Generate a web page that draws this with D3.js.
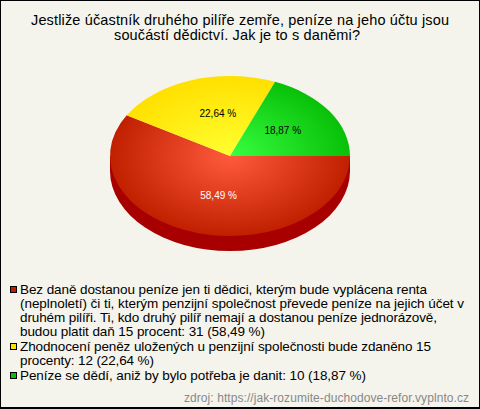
<!DOCTYPE html>
<html><head><meta charset="utf-8">
<script src="https://cdn.jsdelivr.net/npm/d3@7"></script>
<style>html,body{margin:0;padding:0;background:#f4f4ec}svg{display:block}text{font-family:"Liberation Sans",Arial,sans-serif}</style>
</head><body><div id="c"></div>
<script>
const titleLines = ["Jestliže účastník druhého pilíře zemře, peníze na jeho účtu jsou","součástí dědictví. Jak je to s daněmi?"];
const counts = [31, 12, 10];
const pctLabels = ["58,49 %","22,64 %","18,87 %"];
const labelColors = ["#ffffff","#000000","#000000"];
const legendLines = [
 ["Bez daně dostanou peníze jen ti dědici, kterým bude vyplácena renta","(neplnoletí) či ti, kterým penzijní společnost převede peníze na jejich účet v","druhém pilíři. Ti, kdo druhý pilíř nemají a dostanou peníze jednorázově,","budou platit daň 15 procent: 31 (58,49 %)"],
 ["Zhodnocení peněz uložených u penzijní společnosti bude zdaněno 15","procenty: 12 (22,64 %)"],
 ["Peníze se dědí, aniž by bylo potřeba je danit: 10 (18,87 %)"]];
const outerColors = ["#c02000","#ffe000","#08c008"];
const innerColors = ["#ff5a3c","#ffff30","#38ff40"];
const sourceText = "zdroj: https://jak-rozumite-duchodove-refor.vyplnto.cz";

// layout only
const titleX=[31,114];
const titleWidths=[418,246];
const legendWidths=[[407,444,417,245],[411,134],[346]];
const labelNudge=[[6,-2.5],[9,-0.5],[-2,-1]];

const W=480,H=409,cx=230,cy=156,rx=120,ry=80,depth=15;
const svg=d3.select("#c").append("svg").attr("width",W).attr("height",H);
svg.append("rect").attr("x",.5).attr("y",.5).attr("width",W-1).attr("height",H-1).attr("fill","#f4f4ec").attr("stroke","#000");
svg.append("line").attr("x1",0).attr("x2",W).attr("y1",407.5).attr("y2",407.5).attr("stroke","#000");

svg.selectAll("text.t").data(titleLines).join("text").attr("class","t")
 .attr("x",(d,i)=>titleX[i]).attr("y",(d,i)=>25+i*15).attr("font-size",14.5).attr("fill","#000")
 .attr("textLength",(d,i)=>titleWidths[i]).attr("lengthAdjust","spacing").text(d=>d);

const defs=svg.append("defs");
counts.forEach((c,i)=>{
 const g=defs.append("radialGradient").attr("id","g"+i).attr("gradientUnits","userSpaceOnUse").attr("cx",0).attr("cy",0).attr("r",rx);
 g.append("stop").attr("offset",0).attr("stop-color",innerColors[i]);
 g.append("stop").attr("offset",1).attr("stop-color",outerColors[i]);
});
const pie=d3.pie().sort(null).startAngle(Math.PI/2).endAngle(Math.PI/2+2*Math.PI);
const arcs=pie(counts);
const arc=d3.arc().innerRadius(0).outerRadius(rx);
const yScale=ry/rx;

const wall=svg.append("g");
wall.append("path").attr("d",arc({startAngle:Math.PI/2,endAngle:Math.PI*1.5}))
 .attr("transform",`translate(${cx},${cy+depth}) scale(1,${yScale})`).attr("fill","#a80000");
wall.append("rect").attr("x",cx-rx).attr("y",cy).attr("width",2*rx).attr("height",depth).attr("fill","#a80000");

svg.append("g").attr("transform",`translate(${cx},${cy}) scale(1,${yScale})`)
 .selectAll("path").data(arcs).join("path").attr("d",arc).attr("fill",(d,i)=>`url(#g${i})`);

const lab=d3.arc().innerRadius(0).outerRadius(rx*1.1);
svg.selectAll("text.l").data(arcs).join("text").attr("class","l")
 .attr("x",(d,i)=>cx+lab.centroid(d)[0]+labelNudge[i][0]).attr("y",(d,i)=>cy+lab.centroid(d)[1]*yScale+3.5+labelNudge[i][1])
 .attr("text-anchor","middle").attr("font-size",10).attr("fill",(d,i)=>labelColors[i]).text((d,i)=>pctLabels[i]);

let y=294;
legendLines.forEach((lines,i)=>{
 svg.append("rect").attr("x",10.5).attr("y",y-7.5).attr("width",6).attr("height",6).attr("fill",outerColors[i]).attr("stroke","#000");
 lines.forEach((s,j)=>{
  svg.append("text").attr("x",20).attr("y",y).attr("font-size",13.5).attr("fill","#000")
   .attr("textLength",legendWidths[i][j]).attr("lengthAdjust","spacing").text(s);
  y+=14;
 });
 y+=1;
});
svg.append("text").attr("x",184).attr("y",402).attr("font-size",12).attr("fill","#888")
 .attr("textLength",285).attr("lengthAdjust","spacing").text(sourceText);
</script></body></html>
